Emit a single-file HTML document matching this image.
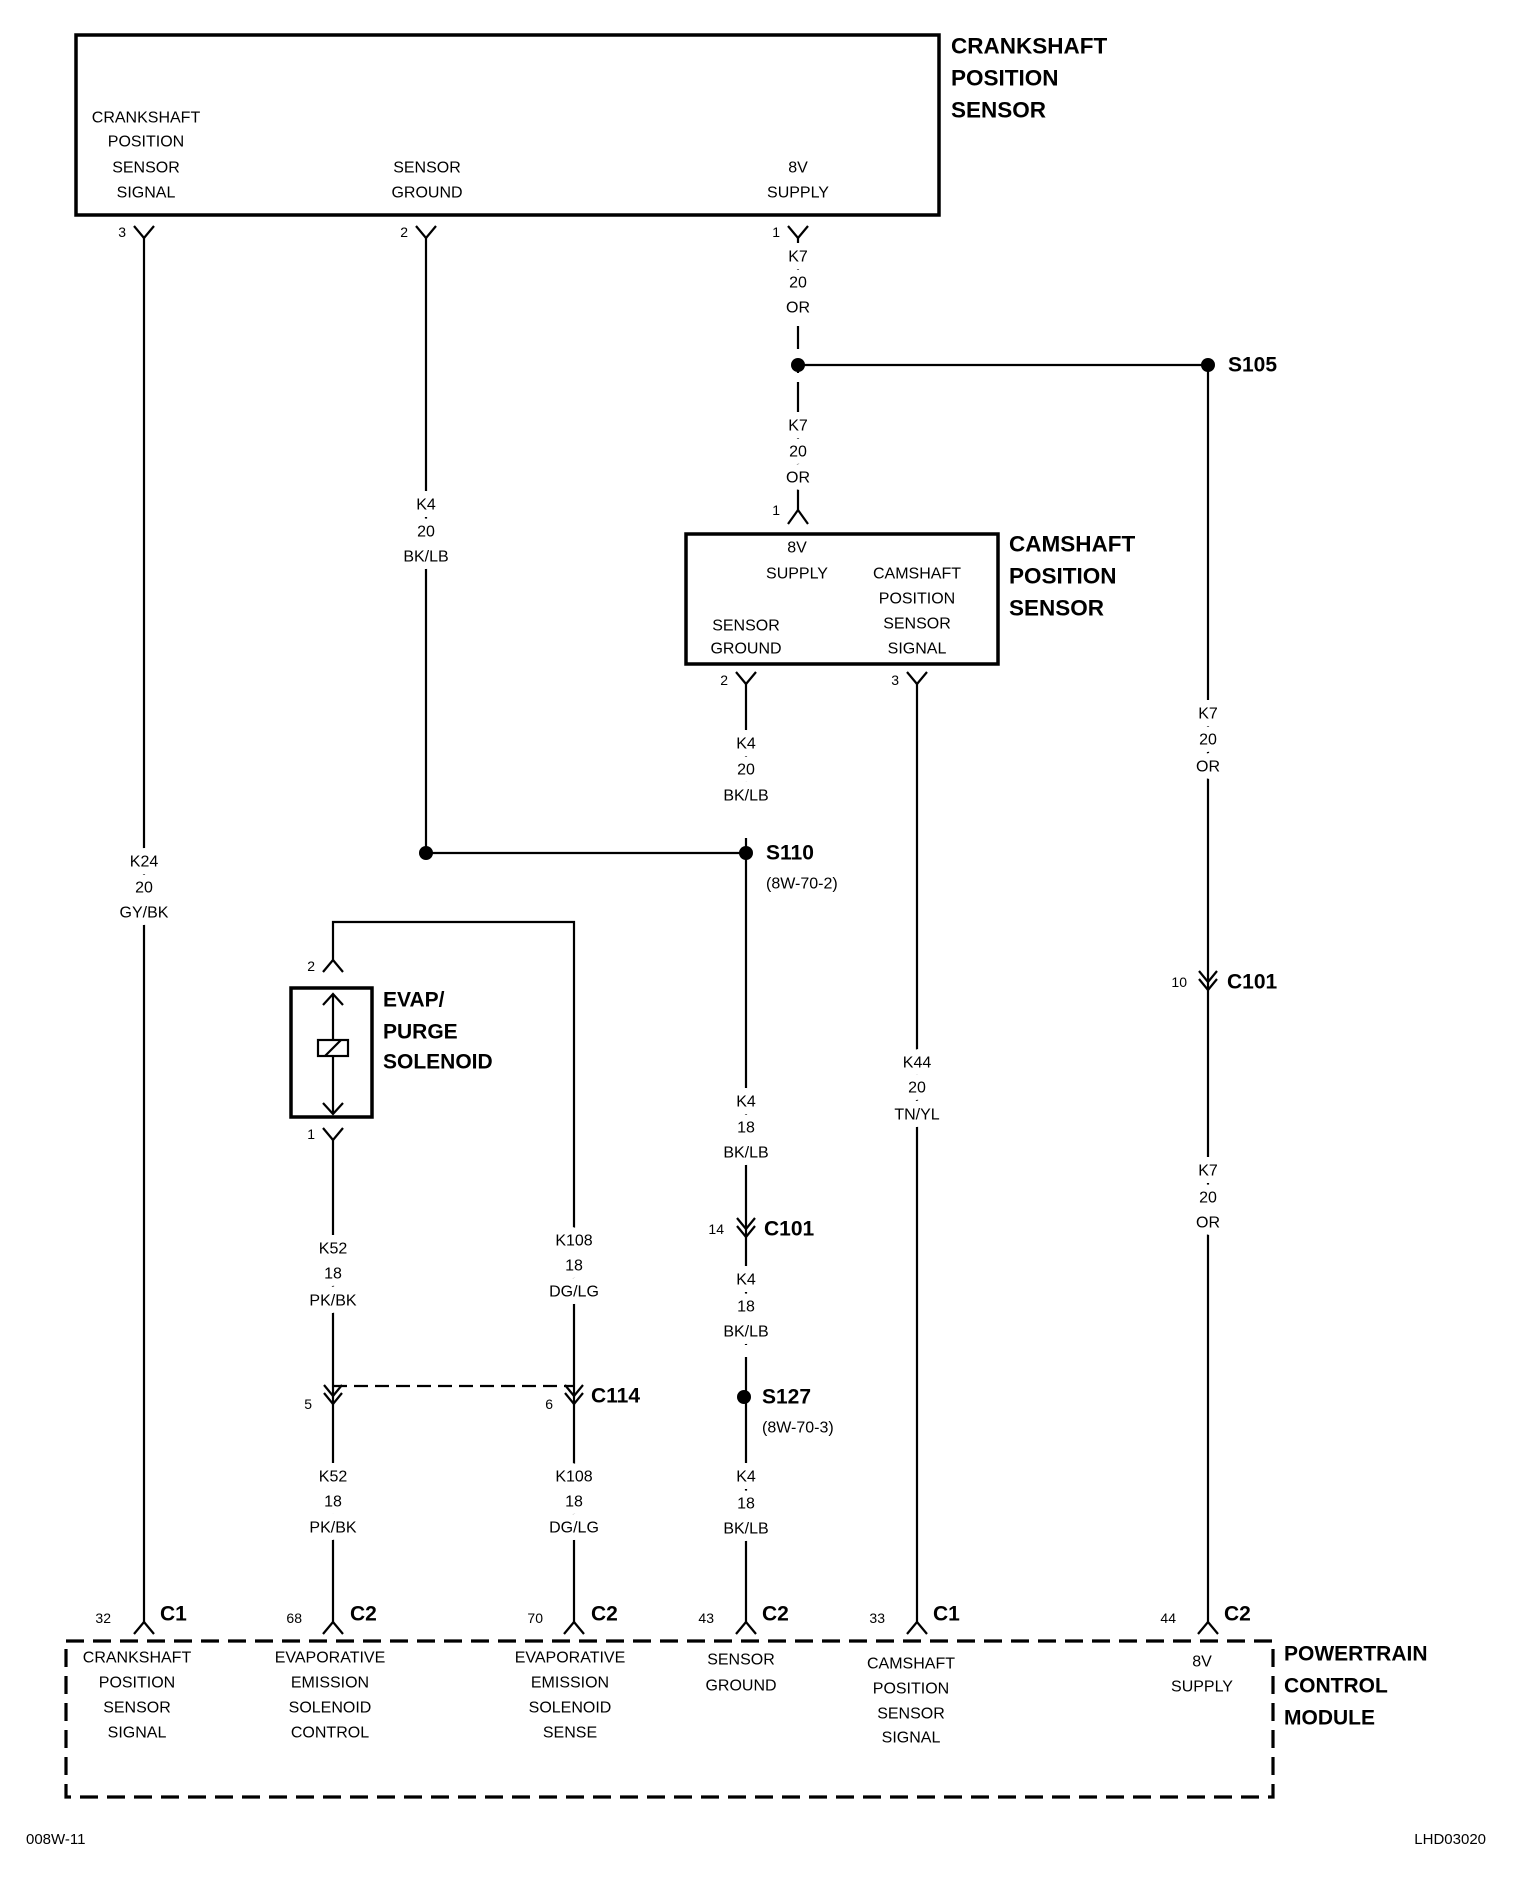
<!DOCTYPE html>
<html><head><meta charset="utf-8"><style>
html,body{margin:0;padding:0;background:#fff}
svg{display:block}
text{font-family:"Liberation Sans",sans-serif;fill:#000}
.l{font-size:16px;text-anchor:middle;dominant-baseline:central}
.w{font-size:16px;text-anchor:middle;dominant-baseline:central;stroke:#fff;stroke-width:15px;paint-order:stroke;stroke-linejoin:round}
.n{font-size:14px;text-anchor:end;dominant-baseline:central}
.b{font-size:22.5px;font-weight:bold;dominant-baseline:central}
.bs{font-size:21px;font-weight:bold;dominant-baseline:central}
</style></head><body>
<svg width="1520" height="1880" viewBox="0 0 1520 1880" xmlns="http://www.w3.org/2000/svg">
<g stroke="#000" fill="none" stroke-width="2.2">
<rect x="76" y="35" width="863" height="180" stroke-width="3.5"/>
<line x1="144" y1="238" x2="144" y2="1622"/>
<line x1="426" y1="238" x2="426" y2="853"/>
<line x1="798" y1="238" x2="798" y2="510"/>
<line x1="798" y1="365" x2="1208" y2="365"/>
<line x1="1208" y1="365" x2="1208" y2="1622"/>
<line x1="426" y1="853" x2="746" y2="853"/>
<line x1="746" y1="684" x2="746" y2="1622"/>
<line x1="917" y1="684" x2="917" y2="1622"/>
<path d="M134 226 L144 238 L154 226"/>
<path d="M416 226 L426 238 L436 226"/>
<path d="M788 226 L798 238 L808 226"/>
<path d="M788 524 L798 510 L808 524"/>
<rect x="686" y="534" width="312" height="130" stroke-width="3.5"/>
<path d="M736 672 L746 684 L756 672"/>
<path d="M907 672 L917 684 L927 672"/>
<path d="M737 1218 L746 1229 L755 1218 M737 1226 L746 1237 L755 1226"/>
<path d="M1199 971 L1208 982 L1217 971 M1199 979 L1208 990 L1217 979"/>
<path d="M333 960 L333 922 L574 922 L574 1622"/>
<path d="M323 972 L333 960 L343 972"/>
<rect x="291" y="988" width="81" height="129" stroke-width="3.5"/>
<line x1="333" y1="994" x2="333" y2="1114"/>
<path d="M323 1005 L333 994 L343 1005"/>
<path d="M323 1103 L333 1114 L343 1103"/>
<rect x="318" y="1040" width="30" height="16" fill="#fff"/>
<line x1="325" y1="1056" x2="341" y2="1040"/>
<path d="M323 1128 L333 1140 L343 1128"/>
<line x1="333" y1="1140" x2="333" y2="1622"/>
<path d="M324 1385 L333 1396 L342 1385 M324 1393 L333 1404 L342 1393"/>
<path d="M565 1385 L574 1396 L583 1385 M565 1393 L574 1404 L583 1393"/>
<line x1="333" y1="1386" x2="574" y2="1386" stroke-dasharray="14 7"/>
<path d="M134 1634 L144 1622 L154 1634"/>
<path d="M323 1634 L333 1622 L343 1634"/>
<path d="M564 1634 L574 1622 L584 1634"/>
<path d="M736 1634 L746 1622 L756 1634"/>
<path d="M907 1634 L917 1622 L927 1634"/>
<path d="M1198 1634 L1208 1622 L1218 1634"/>
<rect x="66" y="1641" width="1207" height="156" stroke-width="3.2" stroke-dasharray="18 9"/>
</g>
<rect x="790" y="316" width="16" height="10" fill="#fff"/>
<rect x="790" y="349" width="16" height="10" fill="#fff"/>
<rect x="790" y="373" width="16" height="9" fill="#fff"/>
<rect x="738" y="806" width="16" height="32" fill="#fff"/>
<rect x="738" y="1345" width="16" height="12" fill="#fff"/>
<g fill="#000">
<circle cx="798" cy="365" r="7"/>
<circle cx="1208" cy="365" r="7"/>
<circle cx="426" cy="853" r="7"/>
<circle cx="746" cy="853" r="7"/>
<circle cx="744" cy="1397" r="7"/>
</g>
<text class="l" x="146" y="118">CRANKSHAFT</text>
<text class="l" x="146" y="142">POSITION</text>
<text class="l" x="146" y="168">SENSOR</text>
<text class="l" x="146" y="193">SIGNAL</text>
<text class="l" x="427" y="168">SENSOR</text>
<text class="l" x="427" y="193">GROUND</text>
<text class="l" x="798" y="168">8V</text>
<text class="l" x="798" y="193">SUPPLY</text>
<text class="b" x="951" y="46">CRANKSHAFT</text>
<text class="b" x="951" y="78">POSITION</text>
<text class="b" x="951" y="110">SENSOR</text>
<text class="n" x="126" y="232">3</text>
<text class="n" x="408" y="232">2</text>
<text class="n" x="780" y="232">1</text>
<text class="w" x="798" y="257">K7</text><text class="w" x="798" y="283">20</text><text class="w" x="798" y="308">OR</text>
<text class="w" x="798" y="426">K7</text><text class="w" x="798" y="452">20</text><text class="w" x="798" y="478">OR</text>
<text class="bs" x="1228" y="365">S105</text>
<text class="n" x="780" y="510">1</text>
<text class="l" x="797" y="548">8V</text>
<text class="l" x="797" y="574">SUPPLY</text>
<text class="l" x="917" y="574">CAMSHAFT</text>
<text class="l" x="917" y="599">POSITION</text>
<text class="l" x="917" y="624">SENSOR</text>
<text class="l" x="917" y="649">SIGNAL</text>
<text class="l" x="746" y="626">SENSOR</text>
<text class="l" x="746" y="649">GROUND</text>
<text class="b" x="1009" y="544">CAMSHAFT</text>
<text class="b" x="1009" y="576">POSITION</text>
<text class="b" x="1009" y="608">SENSOR</text>
<text class="n" x="728" y="680">2</text>
<text class="n" x="899" y="680">3</text>
<text class="w" x="426" y="505">K4</text><text class="w" x="426" y="532">20</text><text class="w" x="426" y="557">BK/LB</text>
<text class="w" x="144" y="862">K24</text><text class="w" x="144" y="888">20</text><text class="w" x="144" y="913">GY/BK</text>
<text class="w" x="746" y="744">K4</text><text class="w" x="746" y="770">20</text><text class="w" x="746" y="796">BK/LB</text>
<text class="bs" x="766" y="853">S110</text>
<text class="l" x="766" y="884" style="text-anchor:start">(8W-70-2)</text>
<text class="w" x="1208" y="714">K7</text><text class="w" x="1208" y="740">20</text><text class="w" x="1208" y="767">OR</text>
<text class="n" x="1187" y="982">10</text>
<text class="bs" x="1227" y="982">C101</text>
<text class="w" x="1208" y="1171">K7</text><text class="w" x="1208" y="1198">20</text><text class="w" x="1208" y="1223">OR</text>
<text class="w" x="917" y="1063">K44</text><text class="w" x="917" y="1088">20</text><text class="w" x="917" y="1115">TN/YL</text>
<text class="w" x="746" y="1102">K4</text><text class="w" x="746" y="1128">18</text><text class="w" x="746" y="1153">BK/LB</text>
<text class="n" x="724" y="1229">14</text>
<text class="bs" x="764" y="1229">C101</text>
<text class="w" x="746" y="1280">K4</text><text class="w" x="746" y="1307">18</text><text class="w" x="746" y="1332">BK/LB</text>
<text class="bs" x="762" y="1397">S127</text>
<text class="l" x="762" y="1428" style="text-anchor:start">(8W-70-3)</text>
<text class="w" x="746" y="1477">K4</text><text class="w" x="746" y="1504">18</text><text class="w" x="746" y="1529">BK/LB</text>
<text class="n" x="315" y="966">2</text>
<text class="n" x="315" y="1134">1</text>
<text class="bs" x="383" y="1000">EVAP/</text>
<text class="bs" x="383" y="1032">PURGE</text>
<text class="bs" x="383" y="1062">SOLENOID</text>
<text class="w" x="333" y="1249">K52</text><text class="w" x="333" y="1274">18</text><text class="w" x="333" y="1301">PK/BK</text>
<text class="w" x="574" y="1241">K108</text><text class="w" x="574" y="1266">18</text><text class="w" x="574" y="1292">DG/LG</text>
<text class="n" x="312" y="1404">5</text>
<text class="n" x="553" y="1404">6</text>
<text class="bs" x="591" y="1396">C114</text>
<text class="w" x="333" y="1477">K52</text><text class="w" x="333" y="1502">18</text><text class="w" x="333" y="1528">PK/BK</text>
<text class="w" x="574" y="1477">K108</text><text class="w" x="574" y="1502">18</text><text class="w" x="574" y="1528">DG/LG</text>
<text class="n" x="111" y="1618">32</text><text class="bs" x="160" y="1614">C1</text>
<text class="n" x="302" y="1618">68</text><text class="bs" x="350" y="1614">C2</text>
<text class="n" x="543" y="1618">70</text><text class="bs" x="591" y="1614">C2</text>
<text class="n" x="714" y="1618">43</text><text class="bs" x="762" y="1614">C2</text>
<text class="n" x="885" y="1618">33</text><text class="bs" x="933" y="1614">C1</text>
<text class="n" x="1176" y="1618">44</text><text class="bs" x="1224" y="1614">C2</text>
<text class="l" x="137" y="1658">CRANKSHAFT</text><text class="l" x="137" y="1683">POSITION</text><text class="l" x="137" y="1708">SENSOR</text><text class="l" x="137" y="1733">SIGNAL</text>
<text class="l" x="330" y="1658">EVAPORATIVE</text><text class="l" x="330" y="1683">EMISSION</text><text class="l" x="330" y="1708">SOLENOID</text><text class="l" x="330" y="1733">CONTROL</text>
<text class="l" x="570" y="1658">EVAPORATIVE</text><text class="l" x="570" y="1683">EMISSION</text><text class="l" x="570" y="1708">SOLENOID</text><text class="l" x="570" y="1733">SENSE</text>
<text class="l" x="741" y="1660">SENSOR</text><text class="l" x="741" y="1686">GROUND</text>
<text class="l" x="911" y="1664">CAMSHAFT</text><text class="l" x="911" y="1689">POSITION</text><text class="l" x="911" y="1714">SENSOR</text><text class="l" x="911" y="1738">SIGNAL</text>
<text class="l" x="1202" y="1662">8V</text><text class="l" x="1202" y="1687">SUPPLY</text>
<text class="bs" x="1284" y="1654">POWERTRAIN</text>
<text class="bs" x="1284" y="1686">CONTROL</text>
<text class="bs" x="1284" y="1718">MODULE</text>
<text x="26" y="1844" style="font-size:15px">008W-11</text>
<text x="1486" y="1844" style="font-size:15px;text-anchor:end">LHD03020</text>
</svg>
</body></html>
